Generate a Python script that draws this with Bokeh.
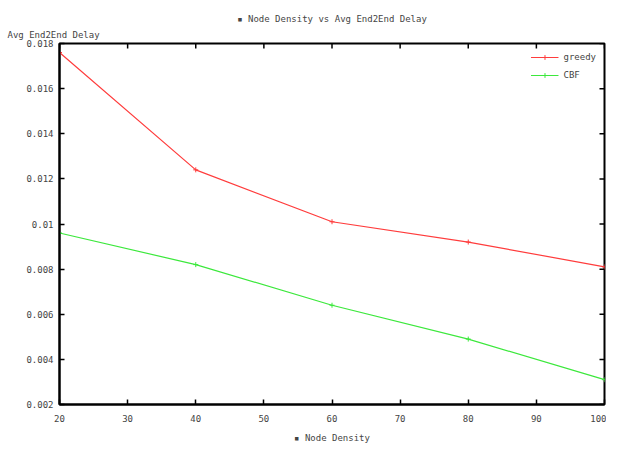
import math
from bokeh.plotting import figure
from bokeh.models import FixedTicker, Title, Legend, LegendItem, Range1d
from bokeh.embed import file_html
from bokeh.resources import INLINE

# data
node_density = [20, 40, 60, 80, 100]
greedy = [0.0176, 0.0124, 0.0101, 0.0092, 0.0081]
cbf = [0.0096, 0.0082, 0.0064, 0.0049, 0.0031]
x_ticks = [20, 30, 40, 50, 60, 70, 80, 90, 100]
y_ticks = [0.002, 0.004, 0.006, 0.008, 0.010, 0.012, 0.014, 0.016, 0.018]
y_tick_labels = ["0.002", "0.004", "0.006", "0.008", "0.01", "0.012", "0.014", "0.016", "0.018"]

FONT = "DejaVu Sans Mono"
TXT = "#444444"
RED = "#ff3c3c"
GREEN = "#3ce83c"

x_lo, x_hi = x_ticks[0], x_ticks[-1]
y_lo, y_hi = y_ticks[0], y_ticks[-1]

p = figure(width=606, height=445, output_backend="svg", toolbar_location=None,
           x_range=Range1d(x_lo, x_hi), y_range=Range1d(y_lo, y_hi),
           min_border_left=59, min_border_right=2, min_border_top=43, min_border_bottom=40)
p.xgrid.visible = False
p.ygrid.visible = False
p.outline_line_color = "black"
p.outline_line_width = 2

for ax in [p.xaxis[0], p.yaxis[0]]:
    ax.axis_line_color = "black"
    ax.axis_line_width = 2
    ax.major_tick_in = 5
    ax.major_tick_out = 0
    ax.major_tick_line_width = 1.5
    ax.minor_tick_line_color = None
    ax.major_label_text_font = FONT
    ax.major_label_text_font_size = "9px"
    ax.major_label_text_color = TXT

p.xaxis[0].ticker = FixedTicker(ticks=x_ticks)
p.yaxis[0].ticker = FixedTicker(ticks=y_ticks)
p.yaxis[0].major_label_overrides = {t: l for t, l in zip(y_ticks, y_tick_labels)}
p.xaxis[0].major_label_standoff = 10
p.yaxis[0].major_label_standoff = 6

p.xaxis[0].axis_label = "\u25aa Node Density"
p.xaxis[0].axis_label_text_font = FONT
p.xaxis[0].axis_label_text_font_size = "9px"
p.xaxis[0].axis_label_text_font_style = "normal"
p.xaxis[0].axis_label_text_color = TXT
p.xaxis[0].axis_label_standoff = 8

# mirrored ticks on top and right edges (half of each dash is clipped by the frame)
p.scatter(x_ticks, [y_hi] * len(x_ticks), marker="dash", angle=math.pi / 2, size=10,
          line_color="black", line_width=1.5)
p.scatter([x_hi] * len(y_ticks), y_ticks, marker="dash", size=10,
          line_color="black", line_width=1.5)

ylab = Title(text="Avg End2End Delay", align="left", offset=-52, text_font=FONT,
             text_font_size="9px", text_font_style="normal", text_color=TXT,
             standoff=8)
p.add_layout(ylab, "above")
main = Title(text="\u25aa Node Density vs Avg End2End Delay", align="center",
             text_font=FONT, text_font_size="9px", text_font_style="normal",
             text_color=TXT, standoff=0)
p.add_layout(main, "above")

r1 = p.line(node_density, greedy, line_color=RED, line_width=1.2)
m1 = p.scatter(node_density, greedy, marker="cross", size=5, line_color=RED)
r2 = p.line(node_density, cbf, line_color=GREEN, line_width=1.2)
m2 = p.scatter(node_density, cbf, marker="cross", size=5, line_color=GREEN)

legend = Legend(items=[LegendItem(label="greedy", renderers=[r1, m1]),
                       LegendItem(label="CBF", renderers=[r2, m2])],
                location="top_right", border_line_color=None, background_fill_alpha=0,
                label_text_font=FONT, label_text_font_size="9px", label_text_color=TXT,
                glyph_width=28, glyph_height=12, spacing=6, margin=8, padding=4)
p.add_layout(legend, "center")

open("out.html", "w").write(file_html(p, INLINE))
